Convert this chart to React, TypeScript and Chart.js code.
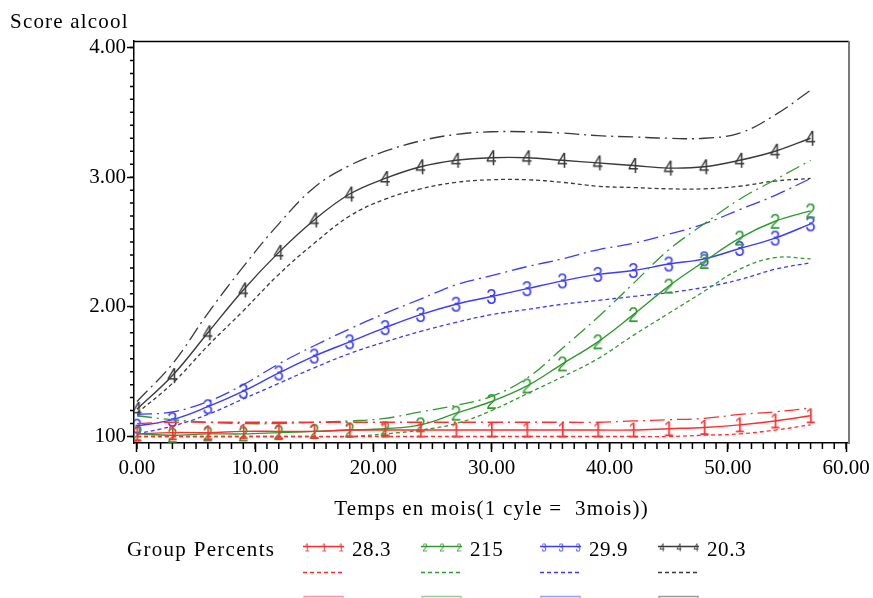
import React, { useEffect, useRef } from 'react';
import { Chart, registerables } from 'chart.js';

Chart.register(...registerables);

// ---------- data ----------
const months = [0, 3, 6, 9, 12, 15, 18, 21, 24, 27, 30, 33, 36, 39, 42, 45, 48, 51, 54, 57];

const g1Mean = [1.02, 1.03, 1.03, 1.04, 1.04, 1.04, 1.05, 1.05, 1.05, 1.05, 1.05, 1.05, 1.05, 1.05, 1.05, 1.06, 1.07, 1.09, 1.12, 1.16];
const g1Lower = [1.0, 1.0, 1.0, 1.0, 1.0, 1.0, 1.0, 1.0, 1.0, 1.0, 1.0, 1.0, 1.0, 1.0, 1.0, 1.0, 1.01, 1.02, 1.05, 1.09];
const g1Upper = [1.1, 1.11, 1.11, 1.11, 1.11, 1.11, 1.11, 1.11, 1.11, 1.11, 1.11, 1.11, 1.11, 1.11, 1.12, 1.13, 1.14, 1.17, 1.19, 1.22];

const g2Mean = [1.02, 1.01, 1.02, 1.02, 1.03, 1.04, 1.05, 1.06, 1.09, 1.18, 1.27, 1.39, 1.56, 1.73, 1.94, 2.16, 2.35, 2.53, 2.66, 2.74];
const g2Lower = [1.0, 1.0, 1.0, 1.0, 1.0, 1.0, 1.0, 1.02, 1.05, 1.1, 1.2, 1.33, 1.46, 1.6, 1.78, 1.95, 2.12, 2.29, 2.38, 2.37];
const g2Upper = [1.16, 1.13, 1.11, 1.1, 1.1, 1.11, 1.12, 1.14, 1.19, 1.24, 1.31, 1.45, 1.68, 1.92, 2.18, 2.44, 2.64, 2.83, 2.98, 3.13];

const g3Mean = [1.08, 1.13, 1.23, 1.35, 1.49, 1.62, 1.73, 1.84, 1.94, 2.02, 2.08, 2.14, 2.2, 2.25, 2.28, 2.33, 2.37, 2.45, 2.53, 2.64];
const g3Lower = [1.02, 1.08, 1.17, 1.29, 1.41, 1.53, 1.64, 1.73, 1.81, 1.88, 1.94, 1.98, 2.02, 2.05, 2.08, 2.11, 2.15, 2.21, 2.29, 2.34];
const g3Upper = [1.17, 1.19, 1.27, 1.4, 1.56, 1.7, 1.83, 1.95, 2.06, 2.17, 2.24, 2.31, 2.37, 2.44, 2.49, 2.56, 2.64, 2.75, 2.86, 2.99];

const g4Mean = [1.21, 1.47, 1.8, 2.13, 2.42, 2.67, 2.87, 2.99, 3.08, 3.13, 3.15, 3.15, 3.13, 3.11, 3.09, 3.07, 3.08, 3.13, 3.2, 3.3];
const g4Lower = [1.18, 1.41, 1.7, 1.97, 2.25, 2.49, 2.7, 2.83, 2.91, 2.96, 2.98, 2.98, 2.96, 2.93, 2.92, 2.91, 2.91, 2.93, 2.97, 2.99];
const g4Upper = [1.27, 1.56, 1.95, 2.31, 2.64, 2.92, 3.09, 3.2, 3.28, 3.33, 3.35, 3.35, 3.34, 3.32, 3.31, 3.3, 3.3, 3.34, 3.48, 3.67];

const groupDigits = ['1', '2', '3', '4'];
const groupPercents = ['28.3', '215', '29.9', '20.3'];
const groupColors = ['#ff2e2e', '#2f9a2f', '#3b3bff', '#3a3a3a'];

const xTickValues = [0, 10, 20, 30, 40, 50, 60];
const xTickLabels = ['0.00', '10.00', '20.00', '30.00', '40.00', '50.00', '60.00'];
const yTickValues = [1, 2, 3, 4];
const yTickLabels = ['100', '2.00', '3.00', '4.00'];
const xMinorStep = 1;
const yMinorStep = 0.1;

const yTitle = 'Score alcool';
const xTitle = 'Temps en mois(1 cyle =  3mois))';
const legendTitle = 'Group Percents';

const SERIF = '"Liberation Serif", "Times New Roman", serif';

function makeMarker(digit: string, color: string, size: number) {
  const c = document.createElement('canvas');
  c.width = Math.round(size * 0.75);
  c.height = Math.round(size * 1.15);
  const ctx = c.getContext('2d')!;
  ctx.fillStyle = color;
  ctx.font = `${size}px "Liberation Sans", "DejaVu Sans", sans-serif`;
  ctx.textAlign = 'center';
  ctx.textBaseline = 'middle';
  ctx.save();
  ctx.translate(c.width / 2, c.height / 2 + 1);
  ctx.scale(0.85, 1);
  ctx.fillText(digit, 0, 0);
  ctx.restore();
  return c;
}

export default function App() {
  const ref = useRef<HTMLCanvasElement>(null);

  useEffect(() => {
    if (!ref.current) return;
    const means = [g1Mean, g2Mean, g3Mean, g4Mean];
    const lowers = [g1Lower, g2Lower, g3Lower, g4Lower];
    const uppers = [g1Upper, g2Upper, g3Upper, g4Upper];
    const toXY = (arr: number[]) => months.map((m, i) => ({ x: m, y: arr[i] }));

    const datasets: any[] = [];
    groupDigits.forEach((d, i) => {
      const col = groupColors[i];
      datasets.push({
        label: 'upper ' + d,
        data: toXY(uppers[i]),
        borderColor: col,
        borderWidth: 1.3,
        borderDash: [15, 5, 2, 5],
        pointRadius: 0,
        tension: 0.4,
        fill: false,
      });
      datasets.push({
        label: 'lower ' + d,
        data: toXY(lowers[i]),
        borderColor: col,
        borderWidth: 1.3,
        borderDash: [4, 3],
        pointRadius: 0,
        tension: 0.4,
        fill: false,
      });
      datasets.push({
        label: d,
        data: toXY(means[i]),
        borderColor: col,
        borderWidth: 1.4,
        pointStyle: makeMarker(d, col, 22),
        pointRadius: 6,
        tension: 0.4,
        fill: false,
      });
    });

    const smallMarkers = groupDigits.map((d, i) => makeMarker(d, groupColors[i], 11));

    const framePlugin = {
      id: 'frameAndLegend',
      afterDraw(chart: any) {
        const ctx = chart.ctx as any;
        const { left, top, right, bottom } = chart.chartArea;
        const xs = chart.scales.x;
        const ys = chart.scales.y;
        ctx.save();
        // frame
        ctx.strokeStyle = '#000';
        ctx.lineWidth = 1.5;
        ctx.beginPath();
        ctx.moveTo(left, top + 0.5);
        ctx.lineTo(right, top + 0.5);
        ctx.stroke();
        ctx.strokeStyle = '#7a7a7a';
        ctx.lineWidth = 2;
        ctx.beginPath();
        ctx.moveTo(right, top);
        ctx.lineTo(right, bottom);
        ctx.stroke();

        // minor ticks
        ctx.strokeStyle = '#000';
        ctx.lineWidth = 1.5;
        ctx.beginPath();
        const y0 = yTickValues[0];
        const y1 = yTickValues[yTickValues.length - 1];
        const nY = Math.round((y1 - y0) / yMinorStep);
        for (let k = 0; k <= nY; k++) {
          const v = y0 + k * yMinorStep;
          const py = ys.getPixelForValue(v);
          ctx.moveTo(left - 4, py);
          ctx.lineTo(left, py);
        }
        const x0 = xTickValues[0];
        const x1 = xTickValues[xTickValues.length - 1];
        const nX = Math.round((x1 - x0) / xMinorStep);
        for (let k = 0; k <= nX; k++) {
          const v = x0 + k * xMinorStep;
          const px = xs.getPixelForValue(v);
          ctx.moveTo(px, bottom);
          ctx.lineTo(px, bottom + 6);
        }
        ctx.stroke();

        // titles
        ctx.fillStyle = '#000';
        ctx.font = `21px ${SERIF}`;
        ctx.textBaseline = 'middle';
        ctx.letterSpacing = '1.2px';
        ctx.textAlign = 'left';
        ctx.fillText(yTitle, 10, 22);
        ctx.textAlign = 'center';
        ctx.fillText(xTitle, (left + right) / 2, 509);

        // legend
        ctx.textAlign = 'left';
        ctx.letterSpacing = '1.3px';
        ctx.fillText(legendTitle, 127, 550);
        ctx.letterSpacing = '0.6px';
        const starts = [303, 421, 540, 658];
        groupDigits.forEach((d, i) => {
          const sx = starts[i];
          const col = groupColors[i];
          ctx.strokeStyle = col;
          ctx.lineWidth = 1.3;
          ctx.setLineDash([]);
          ctx.beginPath();
          ctx.moveTo(sx, 546.5);
          ctx.lineTo(sx + 41, 546.5);
          ctx.stroke();
          const mk = smallMarkers[i];
          [sx + 4, sx + 21, sx + 38].forEach((mx) => {
            ctx.drawImage(mk, mx - mk.width / 2, 547 - mk.height / 2);
          });
          ctx.setLineDash([4, 3]);
          ctx.beginPath();
          ctx.moveTo(sx, 572.5);
          ctx.lineTo(sx + 41, 572.5);
          ctx.stroke();
          ctx.setLineDash([]);
          ctx.globalAlpha = 0.5;
          ctx.beginPath();
          ctx.moveTo(sx + 1, 600);
          ctx.lineTo(sx + 1, 596.5);
          ctx.lineTo(sx + 40, 596.5);
          ctx.lineTo(sx + 40, 600);
          ctx.stroke();
          ctx.globalAlpha = 1;
          ctx.fillStyle = '#000';
          ctx.fillText(groupPercents[i], sx + 49, 550);
        });
        ctx.restore();
      },
    };

    const tickFont = { family: SERIF, size: 21 };

    const chart = new Chart(ref.current, {
      type: 'line',
      data: { datasets },
      plugins: [framePlugin],
      options: {
        responsive: false,
        devicePixelRatio: 1,
        animation: false,
        events: [],
        layout: { padding: { left: 10, right: 24, top: 41, bottom: 65 } },
        plugins: {
          legend: { display: false },
          tooltip: { enabled: false },
          title: { display: false },
        },
        scales: {
          x: {
            type: 'linear',
            display: true,
            position: 'bottom',
            min: -0.25,
            max: 60.25,
            afterBuildTicks: (s: any) => {
              s.ticks = xTickValues.map((v) => ({ value: v }));
            },
            afterFit: (s: any) => {
              s.height = 90;
              s.paddingLeft = 0;
              s.paddingRight = 0;
            },
            ticks: {
              autoSkip: false,
              maxRotation: 0,
              padding: 4,
              color: '#000',
              font: tickFont,
              callback: (v: any) => {
                const i = xTickValues.findIndex((t) => Math.abs(t - v) < 1e-6);
                return i >= 0 ? xTickLabels[i] : '';
              },
            },
            grid: { drawOnChartArea: false, drawTicks: true, tickLength: 9, tickWidth: 1.5, color: '#000' },
            border: { display: true, color: '#000', width: 1.5 },
          },
          y: {
            type: 'linear',
            display: true,
            position: 'left',
            min: 0.95,
            max: 4.05,
            afterBuildTicks: (s: any) => {
              s.ticks = yTickValues.map((v) => ({ value: v }));
            },
            afterFit: (s: any) => {
              s.width = 124;
              s.paddingTop = 0;
              s.paddingBottom = 0;
            },
            ticks: {
              autoSkip: false,
              padding: 1,
              color: '#000',
              font: tickFont,
              callback: (v: any) => {
                const i = yTickValues.findIndex((t) => Math.abs(t - v) < 1e-6);
                return i >= 0 ? yTickLabels[i] : '';
              },
            },
            grid: { drawOnChartArea: false, drawTicks: true, tickLength: 7, tickWidth: 1.5, color: '#000' },
            border: { display: true, color: '#000', width: 1.5 },
          },
        },
      } as any,
    });

    return () => chart.destroy();
  }, []);

  return (
    <div style={{ position: 'absolute', left: 0, top: 0, width: 873, height: 598, background: '#fff' }}>
      <canvas ref={ref} width={873} height={598} />
    </div>
  );
}
